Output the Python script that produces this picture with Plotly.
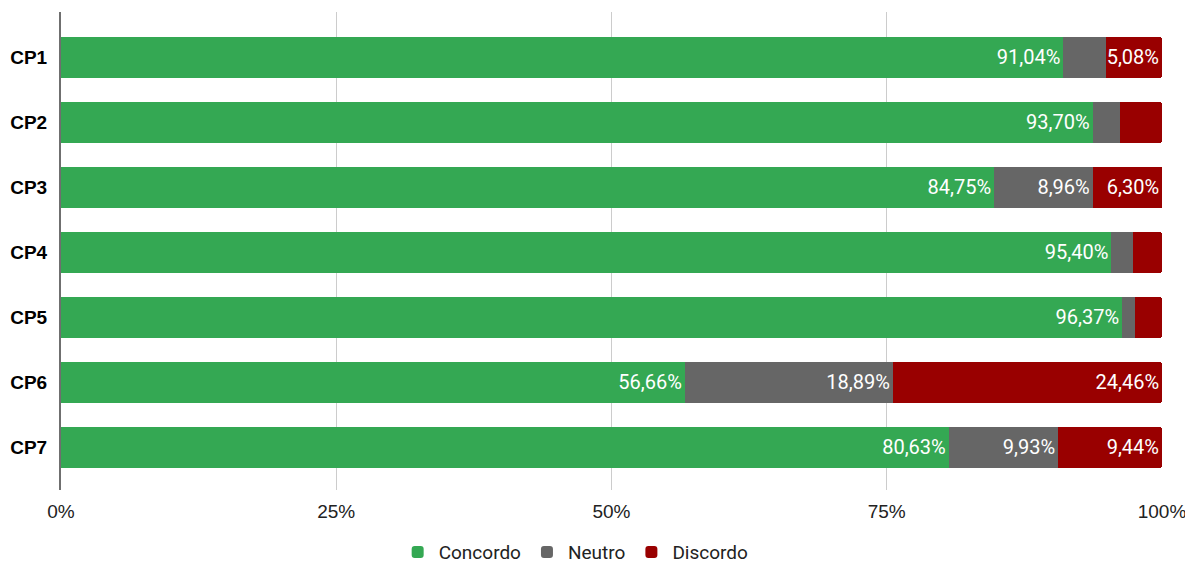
import plotly.graph_objects as go

categories = ["CP1", "CP2", "CP3", "CP4", "CP5", "CP6", "CP7"]
concordo = [91.04, 93.70, 84.75, 95.40, 96.37, 56.66, 80.63]
neutro = [3.88, 2.50, 8.96, 2.00, 1.20, 18.89, 9.93]
discordo = [5.08, 3.80, 6.30, 2.60, 2.43, 24.46, 9.44]
x_ticks = [0, 25, 50, 75, 100]
x_tick_labels = ["0%", "25%", "50%", "75%", "100%"]

series = [
    ("Concordo", concordo, "#34a853"),
    ("Neutro", neutro, "#666666"),
    ("Discordo", discordo, "#990000"),
]


def fmt(v):
    return (f"{v:.2f}%".replace(".", ",")) if v >= 4.5 else ""


fig = go.Figure()
for name, vals, color in series:
    fig.add_trace(go.Bar(
        name=name,
        y=categories,
        x=vals,
        orientation="h",
        marker=dict(color=color, line=dict(width=0)),
        text=[fmt(v) for v in vals],
        textposition="inside",
        insidetextanchor="end",
        textangle=0,
        textfont=dict(family="Roboto", size=20, color="white"),
        hoverinfo="skip",
    ))

fig.update_layout(
    barmode="stack",
    bargap=0.354,
    barcornerradius=3,
    width=1193,
    height=565,
    margin=dict(l=53, r=39, t=4, b=83, autoexpand=False),
    plot_bgcolor="white",
    paper_bgcolor="white",
    uniformtext=dict(minsize=20, mode="show"),
    legend=dict(
        orientation="h",
        x=0.467, xanchor="center",
        y=-0.13, yanchor="middle",
        font=dict(family="Roboto", size=19, color="#222222"),
        traceorder="normal",
        itemwidth=32,
    ),
    xaxis=dict(
        range=[0, 100],
        tickvals=x_ticks,
        ticktext=x_tick_labels,
        showgrid=True,
        gridcolor="#cccccc",
        gridwidth=1,
        zeroline=False,
        showline=False,
        ticks="",
        tickfont=dict(family="Liberation Sans", size=19, color="#222222"),
        ticklabelstandoff=8,
    ),
    yaxis=dict(
        range=[6.654, -0.7],
        showline=True,
        linecolor="#6f6f6f",
        linewidth=2,
        showgrid=False,
        ticks="",
        tickfont=dict(family="Liberation Sans", size=19, color="#000000", weight="bold"),
        ticklabelstandoff=8,
    ),
)

fig.write_html("out.html")
